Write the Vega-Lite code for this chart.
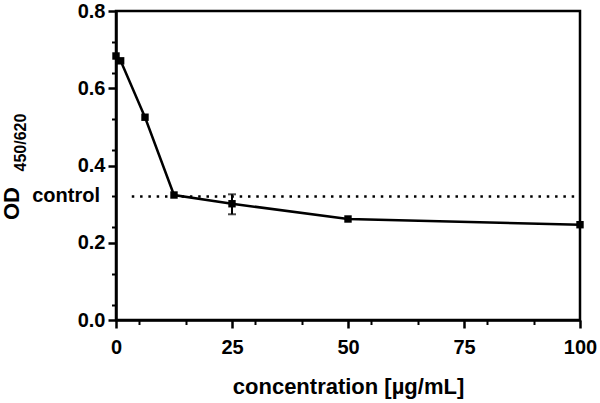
{
  "$schema": "https://vega.github.io/schema/vega-lite/v6.json",
  "width": 464,
  "height": 309,
  "autosize": {"type": "none"},
  "padding": {"left": 116, "top": 11, "right": 20, "bottom": 83},
  "background": "white",
  "config": {
    "view": {"stroke": "black", "strokeWidth": 2.5},
    "font": "Liberation Sans",
    "axis": {
      "domainColor": "black",
      "domainWidth": 2.5,
      "tickColor": "black",
      "tickWidth": 2.5,
      "grid": false,
      "labelColor": "black",
      "labelFont": "Liberation Sans",
      "labelFontWeight": "bold",
      "labelFontSize": 20,
      "titleColor": "black",
      "titleFont": "Liberation Sans",
      "titleFontWeight": "bold",
      "titleFontSize": 22
    }
  },
  "layer": [
    {
      "data": {
        "values": [
          {"conc": 0, "od": 0.6835},
          {"conc": 1, "od": 0.671},
          {"conc": 6.25, "od": 0.525},
          {"conc": 12.5, "od": 0.3236},
          {"conc": 25, "od": 0.301, "lo": 0.2737, "hi": 0.3254},
          {"conc": 50, "od": 0.2615},
          {"conc": 100, "od": 0.2467}
        ]
      },
      "encoding": {
        "x": {
          "field": "conc",
          "type": "quantitative",
          "scale": {"domain": [0, 100], "nice": false},
          "axis": {
            "orient": "bottom",
            "values": [0, 25, 50, 75, 100],
            "tickSize": 8,
            "labelPadding": 9,
            "labelFlush": false,
            "title": "concentration [µg/mL]",
            "titleX": 232,
            "titleY": 73,
            "titleAlign": "center",
            "titleBaseline": "alphabetic"
          }
        }
      },
      "layer": [
        {
          "mark": {"type": "rule", "color": "black", "strokeWidth": 2},
          "encoding": {
            "y": {
              "field": "lo",
              "type": "quantitative",
              "scale": {"domain": [0, 0.8], "nice": false},
              "axis": {
                "orient": "left",
                "values": [0, 0.2, 0.4, 0.6, 0.8],
                "format": ".1f",
                "tickSize": 8,
                "labelPadding": 3,
                "title": "OD",
                "titleAngle": 270,
                "titleX": -98,
                "titleY": 192,
                "titleAlign": "center",
                "titleBaseline": "alphabetic"
              }
            },
            "y2": {"field": "hi"}
          }
        },
        {
          "mark": {"type": "tick", "color": "black", "orient": "horizontal", "size": 8, "thickness": 2},
          "encoding": {"y": {"field": "lo", "type": "quantitative"}}
        },
        {
          "mark": {"type": "tick", "color": "black", "orient": "horizontal", "size": 8, "thickness": 2},
          "encoding": {"y": {"field": "hi", "type": "quantitative"}}
        },
        {
          "mark": {"type": "line", "color": "black", "strokeWidth": 2.5},
          "encoding": {"y": {"field": "od", "type": "quantitative"}}
        },
        {
          "mark": {"type": "point", "shape": "square", "filled": true, "color": "black", "opacity": 1, "size": 55},
          "encoding": {"y": {"field": "od", "type": "quantitative"}}
        }
      ]
    },
    {
      "data": {"values": [{"x1": 3.4, "x2": 100, "y": 0.32, "label": "control"}]},
      "layer": [
        {
          "mark": {"type": "rule", "color": "black", "strokeWidth": 2.5, "strokeDash": [2.5, 5.8]},
          "encoding": {
            "x": {
              "field": "x1",
              "type": "quantitative",
              "axis": {
                "orient": "bottom",
                "values": [5, 10, 15, 20, 30, 35, 40, 45, 55, 60, 65, 70, 80, 85, 90, 95],
                "tickSize": 4.5,
                "tickWidth": 2,
                "labels": false,
                "domain": false,
                "title": null
              }
            },
            "x2": {"field": "x2"},
            "y": {
              "field": "y",
              "type": "quantitative",
              "axis": {
                "orient": "left",
                "values": [0.04, 0.08, 0.12, 0.16, 0.24, 0.28, 0.32, 0.36, 0.44, 0.48, 0.52, 0.56, 0.64, 0.68, 0.72, 0.76],
                "tickSize": 4.5,
                "tickWidth": 2,
                "labels": false,
                "domain": false,
                "title": "450/620",
                "titleFontSize": 16,
                "titleAngle": 270,
                "titleX": -91,
                "titleY": 131,
                "titleAlign": "center",
                "titleBaseline": "alphabetic"
              }
            }
          }
        },
        {
          "mark": {"type": "text", "align": "right", "baseline": "middle", "dx": -16, "fontSize": 20, "fontWeight": "bold", "font": "Liberation Sans", "color": "black", "clip": false},
          "encoding": {
            "x": {"datum": 0, "type": "quantitative"},
            "y": {"field": "y", "type": "quantitative"},
            "text": {"field": "label"}
          }
        }
      ]
    }
  ],
  "resolve": {"axis": {"x": "independent", "y": "independent"}}
}
